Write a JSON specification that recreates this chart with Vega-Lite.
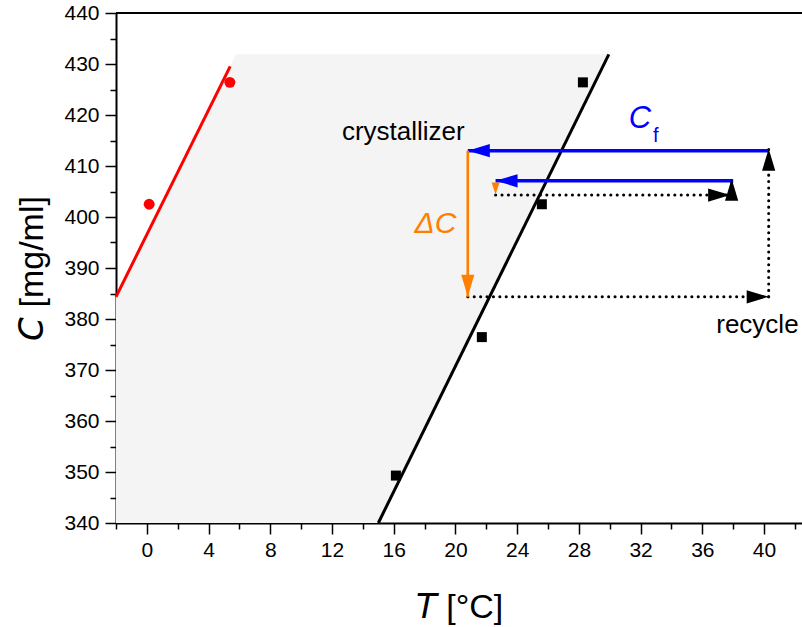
{
  "$schema": "https://vega.github.io/schema/vega-lite/v6.json",
  "autosize": {"type": "none"},
  "padding": {"left": 116, "top": 13, "right": 0, "bottom": 104},
  "width": 686,
  "height": 510,
  "config": {
    "font": "Liberation Sans",
    "view": {"stroke": null},
    "axis": {"zindex": 2, "domainColor": "#000000", "tickColor": "#000000", "labelColor": "#000000", "titleColor": "#000000", "labelFont": "Liberation Sans", "titleFont": "Liberation Sans", "titleFontWeight": "normal", "grid": false}
  },
  "datasets": {
    "shade": [
      {"C": 340, "Tl": -2, "Tr": 15.0},
      {"C": 384.35, "Tl": -2, "Tr": 22.21},
      {"C": 431.9, "Tl": 5.78, "Tr": 29.94}
    ],
    "red_fit": [{"T": -2, "C": 384.35}, {"T": 5.4, "C": 429.55}],
    "black_fit": [{"T": 15.0, "C": 340}, {"T": 29.94, "C": 431.9}],
    "red_pts": [{"T": 0.15, "C": 402.5}, {"T": 5.38, "C": 426.4}],
    "black_pts": [{"T": 16.14, "C": 349.3}, {"T": 21.71, "C": 376.45}, {"T": 25.6, "C": 402.5}, {"T": 28.26, "C": 426.4}],
    "feed": [{"T1": 40.3, "T2": 20.8, "C": 413}, {"T1": 38.0, "T2": 22.6, "C": 407.1}],
    "drop": [{"T": 20.8, "C1": 413, "C2": 384.35}],
    "recycle_h": [{"T1": 22.6, "T2": 37.8, "C": 404.3}, {"T1": 20.8, "T2": 40.3, "C": 384.35}],
    "recycle_v": [{"T": 37.9, "C1": 404.3, "C2": 407.4}, {"T": 40.3, "C1": 384.35, "C2": 413.3}],
    "heads": [
      {"T": 20.8, "C": 413, "dir": "left", "stream": "feed"},
      {"T": 22.6, "C": 407.1, "dir": "left", "stream": "feed"},
      {"T": 20.8, "C": 384.35, "dir": "down", "stream": "yield"},
      {"T": 22.6, "C": 404.4, "dir": "downsmall", "stream": "yield"},
      {"T": 37.8, "C": 404.3, "dir": "right", "stream": "recycle"},
      {"T": 37.9, "C": 407.5, "dir": "up", "stream": "recycle"},
      {"T": 40.3, "C": 384.35, "dir": "right", "stream": "recycle"},
      {"T": 40.3, "C": 413.4, "dir": "up", "stream": "recycle"}
    ],
    "labels_plain": [
      {"T": 16.62, "C": 416.6, "text": "crystallizer"},
      {"T": 39.57, "C": 378.8, "text": "recycle"}
    ],
    "label_cf": [{"T": 31.95, "C": 419.2, "text": "C"}],
    "label_cf_sub": [{"T": 32.99, "C": 415.8, "text": "f"}],
    "label_dc": [{"T": 18.7, "C": 398.7, "text": "ΔC"}]
  },
  "resolve": {"axis": {"x": "independent", "y": "independent"}},
  "layer": [
    {
      "layer": [
        {
          "data": {"name": "shade"},
          "mark": {"type": "area", "orient": "horizontal", "color": "#f4f4f4"},
          "encoding": {
            "y": {"field": "C", "type": "quantitative",
              "scale": {"domain": [340, 440], "nice": false, "zero": false},
              "axis": {"orient": "left", "title": "𝘊 [mg/ml]", "values": [340, 350, 360, 370, 380, 390, 400, 410, 420, 430, 440], "labelFontSize": 21, "titleFontSize": 34, "tickSize": 11, "tickWidth": 1.5, "domainWidth": 2, "labelPadding": 6, "titlePadding": 14}},
            "x": {"field": "Tl", "type": "quantitative",
              "scale": {"domain": [-2, 42.46], "nice": false, "zero": false},
              "axis": {"orient": "bottom", "title": "𝘛 [°C]", "values": [0, 4, 8, 12, 16, 20, 24, 28, 32, 36, 40], "labelFontSize": 21, "titleFontSize": 34, "tickSize": 11, "tickWidth": 1.5, "domainWidth": 2, "labelPadding": 5, "titlePadding": 30}},
            "x2": {"field": "Tr"}
          }
        },
        {
          "data": {"name": "shade"},
          "mark": {"type": "rule", "color": "#000000", "strokeWidth": 2},
          "encoding": {"y": {"datum": 440, "type": "quantitative"}}
        },
        {
          "data": {"name": "red_fit"},
          "mark": {"type": "line", "color": "#ff0000", "strokeWidth": 3},
          "encoding": {"x": {"field": "T", "type": "quantitative"}, "y": {"field": "C", "type": "quantitative"}}
        },
        {
          "data": {"name": "black_fit"},
          "mark": {"type": "line", "color": "#000000", "strokeWidth": 3},
          "encoding": {"x": {"field": "T", "type": "quantitative"}, "y": {"field": "C", "type": "quantitative"}}
        },
        {
          "data": {"name": "recycle_h"},
          "mark": {"type": "rule", "color": "#000000", "strokeWidth": 3, "strokeDash": [0.1, 6.3], "strokeCap": "round"},
          "encoding": {"x": {"field": "T1", "type": "quantitative"}, "x2": {"field": "T2"}, "y": {"field": "C", "type": "quantitative"}}
        },
        {
          "data": {"name": "recycle_v"},
          "mark": {"type": "rule", "color": "#000000", "strokeWidth": 3, "strokeDash": [0.1, 6.3], "strokeCap": "round"},
          "encoding": {"x": {"field": "T", "type": "quantitative"}, "y": {"field": "C1", "type": "quantitative"}, "y2": {"field": "C2"}}
        },
        {
          "data": {"name": "feed"},
          "mark": {"type": "rule", "color": "#0000ff", "strokeWidth": 3.5},
          "encoding": {"x": {"field": "T1", "type": "quantitative"}, "x2": {"field": "T2"}, "y": {"field": "C", "type": "quantitative"}}
        },
        {
          "data": {"name": "drop"},
          "mark": {"type": "rule", "color": "#ff8000", "strokeWidth": 2.7},
          "encoding": {"x": {"field": "T", "type": "quantitative"}, "y": {"field": "C1", "type": "quantitative"}, "y2": {"field": "C2"}}
        },
        {
          "data": {"name": "heads"},
          "mark": {"type": "point", "filled": true, "size": 484, "opacity": 1, "strokeWidth": 0},
          "encoding": {
            "x": {"field": "T", "type": "quantitative"},
            "y": {"field": "C", "type": "quantitative"},
            "shape": {"field": "dir", "type": "nominal", "legend": null,
              "scale": {"domain": ["left", "right", "up", "down", "downsmall"],
                "range": ["M0,0L2,-0.6L2,0.6Z", "M0,0L-2,-0.6L-2,0.6Z", "M0,0L-0.6,2L0.6,2Z", "M0,0L-0.6,-2L0.6,-2Z", "M0,0L-0.36,-1.1L0.36,-1.1Z"]}},
            "color": {"field": "stream", "type": "nominal", "legend": null,
              "scale": {"domain": ["feed", "yield", "recycle"], "range": ["#0000ff", "#ff8000", "#000000"]}}
          }
        },
        {
          "data": {"name": "red_pts"},
          "mark": {"type": "point", "shape": "circle", "filled": true, "size": 120, "color": "#ff0000", "opacity": 1},
          "encoding": {"x": {"field": "T", "type": "quantitative"}, "y": {"field": "C", "type": "quantitative"}}
        },
        {
          "data": {"name": "black_pts"},
          "mark": {"type": "point", "shape": "square", "filled": true, "size": 100, "color": "#000000", "opacity": 1},
          "encoding": {"x": {"field": "T", "type": "quantitative"}, "y": {"field": "C", "type": "quantitative"}}
        },
        {
          "data": {"name": "labels_plain"},
          "mark": {"type": "text", "fontSize": 26, "color": "#000000", "font": "Liberation Sans"},
          "encoding": {"x": {"field": "T", "type": "quantitative"}, "y": {"field": "C", "type": "quantitative"}, "text": {"field": "text"}}
        },
        {
          "data": {"name": "label_cf"},
          "mark": {"type": "text", "fontSize": 31, "fontStyle": "italic", "color": "#0000ff", "font": "Liberation Sans"},
          "encoding": {"x": {"field": "T", "type": "quantitative"}, "y": {"field": "C", "type": "quantitative"}, "text": {"field": "text"}}
        },
        {
          "data": {"name": "label_cf_sub"},
          "mark": {"type": "text", "fontSize": 20, "color": "#0000ff", "font": "Liberation Sans"},
          "encoding": {"x": {"field": "T", "type": "quantitative"}, "y": {"field": "C", "type": "quantitative"}, "text": {"field": "text"}}
        },
        {
          "data": {"name": "label_dc"},
          "mark": {"type": "text", "fontSize": 30, "fontStyle": "italic", "color": "#ff8000", "font": "Liberation Sans"},
          "encoding": {"x": {"field": "T", "type": "quantitative"}, "y": {"field": "C", "type": "quantitative"}, "text": {"field": "text"}}
        }
      ]
    },
    {
      "data": {"name": "red_pts"},
      "mark": {"type": "point", "opacity": 0},
      "encoding": {
        "x": {"field": "T", "type": "quantitative",
          "scale": {"domain": [-2, 42.46], "nice": false, "zero": false},
          "axis": {"orient": "bottom", "title": null, "labels": false, "domain": false, "values": [-2, 2, 6, 10, 14, 18, 22, 26, 30, 34, 38, 42], "tickSize": 6, "tickWidth": 1.5}},
        "y": {"field": "C", "type": "quantitative",
          "scale": {"domain": [340, 440], "nice": false, "zero": false},
          "axis": {"orient": "left", "title": null, "labels": false, "domain": false, "values": [345, 355, 365, 375, 385, 395, 405, 415, 425, 435], "tickSize": 6, "tickWidth": 1.5}}
      }
    }
  ]
}
